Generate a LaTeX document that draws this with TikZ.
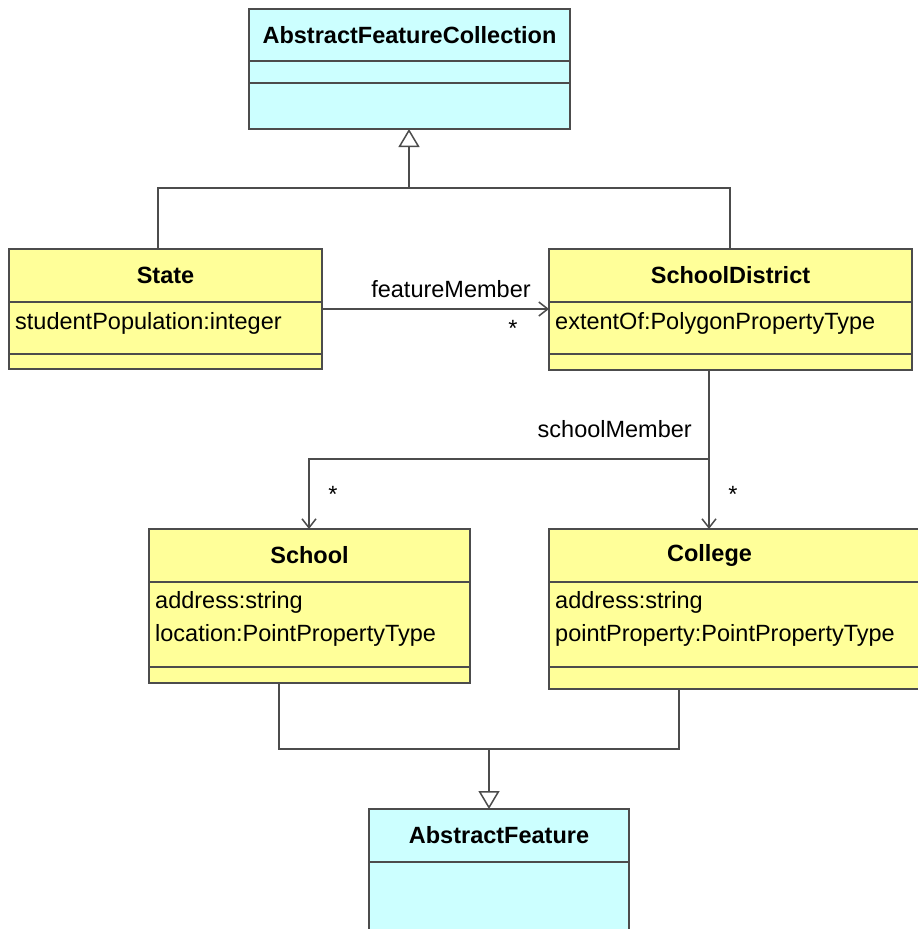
\documentclass[tikz,border=0pt]{standalone}
\usepackage{fontspec}
\setmainfont{Liberation Sans}
\usetikzlibrary{arrows.meta}
\definecolor{classyellow}{HTML}{FFFF99}
\definecolor{classcyan}{HTML}{CCFFFF}
\definecolor{linegray}{HTML}{4C4C4C}
\tikzset{
  umlline/.style={draw=linegray, line width=1.5pt},
  classbox/.style={draw=linegray, line width=1.5pt, anchor=north west, inner sep=0pt, outer sep=0pt},
  yellowbox/.style={classbox, fill=classyellow},
  cyanbox/.style={classbox, fill=classcyan},
  hdr/.style={font=\fontsize{23.5}{28}\selectfont\bfseries, inner sep=0pt},
  attr/.style={font=\fontsize{23.5}{28}\selectfont, anchor=west, inner sep=0pt},
  lbl/.style={font=\fontsize{23.5}{28}\selectfont, inner sep=0pt},
  gen/.style={umlline, -{Triangle[open, length=18pt, width=21pt, line width=1.5pt]}},
  nav/.style={umlline, -{Straight Barb[length=9pt, width=14pt, line width=1.5pt]}},
}
\begin{document}
\begin{tikzpicture}[x=1pt, y=-1pt]
\useasboundingbox (0,0) rectangle (918,929);
\fill[white] (0,0) rectangle (918,929);
\begin{scope}
\clip (0,0) rectangle (918,929);

% AbstractFeatureCollection
\node[cyanbox, minimum width=321pt, minimum height=120pt] (afc) at (249,9) {};
\draw[umlline] (afc.west |- 0,61) -- (afc.east |- 0,61);
\draw[umlline] (afc.west |- 0,83) -- (afc.east |- 0,83);
\node[hdr] (afcname) at (409.5,35) {AbstractFeatureCollection};

% State
\node[yellowbox, minimum width=313pt, minimum height=120pt] (state) at (9,249) {};
\draw[umlline] (state.west |- 0,302) -- (state.east |- 0,302);
\draw[umlline] (state.west |- 0,354) -- (state.east |- 0,354);
\node[hdr] (statename) at (165.5,275) {State};
\node[attr] (stateattr) at (15,323) {studentPopulation:integer};

% SchoolDistrict
\node[yellowbox, minimum width=363pt, minimum height=121pt] (sd) at (549,249) {};
\draw[umlline] (sd.west |- 0,302) -- (sd.east |- 0,302);
\draw[umlline] (sd.west |- 0,354) -- (sd.east |- 0,354);
\node[hdr] (sdname) at (730.5,275) {SchoolDistrict};
\node[attr] (sdattr) at (555,323) {extentOf:PolygonPropertyType};

% School
\node[yellowbox, minimum width=321pt, minimum height=154pt] (school) at (149,529) {};
\draw[umlline] (school.west |- 0,582) -- (school.east |- 0,582);
\draw[umlline] (school.west |- 0,667) -- (school.east |- 0,667);
\node[hdr] (schoolname) at (309.5,555) {School};
\node[attr] (schoolattr1) at (155,602) {address:string};
\node[attr] (schoolattr2) at (155,635) {location:PointPropertyType};

% College
\node[yellowbox, minimum width=380pt, minimum height=160pt] (college) at (549,529) {};
\draw[umlline] (college.west |- 0,582) -- (college.east |- 0,582);
\draw[umlline] (college.west |- 0,667) -- (college.east |- 0,667);
\node[hdr] (collegename) at (709.5,555) {College};
\node[attr] (collegeattr1) at (555,602) {address:string};
\node[attr] (collegeattr2) at (555,635) {pointProperty:PointPropertyType};

% AbstractFeature
\node[cyanbox, minimum width=260pt, minimum height=200pt] (af) at (369,809) {};
\draw[umlline] (af.west |- 0,862) -- (af.east |- 0,862);
\node[hdr] (afname) at (499,835) {AbstractFeature};

% generalization to AbstractFeatureCollection
\coordinate (stTop) at (158,249);
\coordinate (sdTop) at (730,249);
\coordinate (g1) at (409,188);
\draw[umlline] (stTop) |- (g1) -| (sdTop);
\draw[gen] (g1) -- (g1 |- afc.south);

% featureMember association
\draw[nav] (state.east |- 0,309) -- (sd.west |- 0,309);
\node[lbl] (fmlabel) at (451,289) {featureMember};
\node[lbl] (fmmult) at (513,328) {*};

% schoolMember association
\coordinate (sdBot) at (709,370);
\coordinate (j) at (709,459);
\coordinate (schTop) at (309,529);
\coordinate (colTop) at (709,529);
\draw[nav] (sdBot) -- (colTop);
\draw[nav] (j) -| (schTop);
\node[lbl, anchor=east] (smlabel) at (692,429) {schoolMember};
\node[lbl] (smmult1) at (333,494) {*};
\node[lbl] (smmult2) at (733,494) {*};

% generalization to AbstractFeature
\coordinate (schBot) at (279,683);
\coordinate (colBot) at (679,689);
\coordinate (g2) at (489,749);
\draw[umlline] (schBot) |- (g2) -| (colBot);
\draw[gen] (g2) -- (g2 |- af.north);
\end{scope}
\end{tikzpicture}
\end{document}
